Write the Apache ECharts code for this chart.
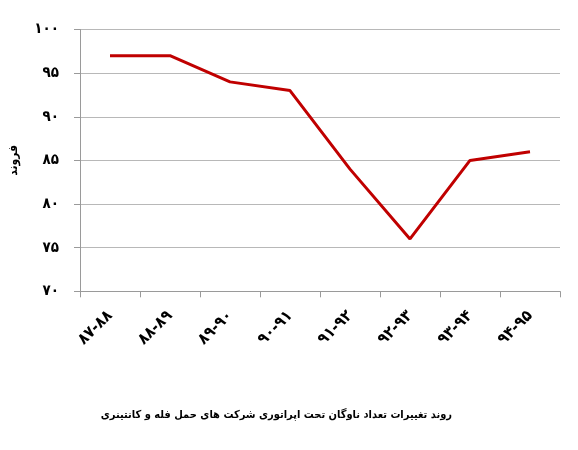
<!DOCTYPE html>
<html>
<head>
<meta charset="utf-8">
<script src="https://cdn.jsdelivr.net/npm/echarts@6/dist/echarts.min.js"></script>
<style>
html,body{margin:0;padding:0;background:#fff;}
#chart{width:578px;height:450px;}
</style>
</head>
<body>
<div id="chart"></div>
<script>
const categories = ['۸۷-۸۸','۸۸-۸۹','۸۹-۹۰','۹۰-۹۱','۹۱-۹۲','۹۲-۹۳','۹۳-۹۴','۹۴-۹۵'];
const fleetValues = [97, 97, 94, 93, 84, 76, 85, 86];
const yTickLabels = {70:'۷۰',75:'۷۵',80:'۸۰',85:'۸۵',90:'۹۰',95:'۹۵',100:'۱۰۰'};
const yAxisName = 'فروند';
const chartTitle = 'روند تغییرات تعداد ناوگان تحت اپراتوری شرکت های حمل فله و کانتینری';

const font = '"DejaVu Sans Condensed", "DejaVu Sans", "Noto Sans", sans-serif';
const chart = echarts.init(document.getElementById('chart'));
chart.setOption({
  animation: false,
  backgroundColor: '#ffffff',
  title: {
    text: chartTitle,
    left: 447,
    top: 405,
    textAlign: 'right',
    textStyle: {fontFamily: font, fontSize: 11, fontWeight: 'bold', color: '#000'}
  },
  grid: {left: 76, right: 18, top: 29.5, bottom: 158.7, containLabel: false},
  xAxis: {
    type: 'category',
    data: categories,
    boundaryGap: true,
    axisLine: {lineStyle: {color: '#9a9a9a', width: 1}},
    axisTick: {show: true, length: 6, lineStyle: {color: '#9a9a9a'}},
    axisLabel: {
      rotate: 45, margin: 22, interval: 0,
      fontFamily: font, fontSize: 16, fontWeight: 'bold', color: '#000'
    }
  },
  yAxis: {
    type: 'value',
    min: 70, max: 100, interval: 5,
    name: yAxisName,
    nameLocation: 'middle',
    nameGap: 60,
    nameRotate: 90,
    nameTextStyle: {fontFamily: font, fontSize: 12, fontWeight: 'bold', color: '#000'},
    axisLine: {show: true, lineStyle: {color: '#9a9a9a', width: 1}},
    axisTick: {show: true, length: 6, lineStyle: {color: '#9a9a9a'}},
    splitLine: {show: true, lineStyle: {color: '#b8b8b8', width: 1}},
    axisLabel: {
      margin: 21,
      fontFamily: font, fontSize: 15, fontWeight: 'bold', color: '#000',
      formatter: v => yTickLabels[v] || String(v)
    }
  },
  series: [{
    type: 'line',
    data: fleetValues,
    symbol: 'none',
    lineStyle: {color: '#c00000', width: 3},
    itemStyle: {color: '#c00000'}
  }]
});
</script>
</body>
</html>
